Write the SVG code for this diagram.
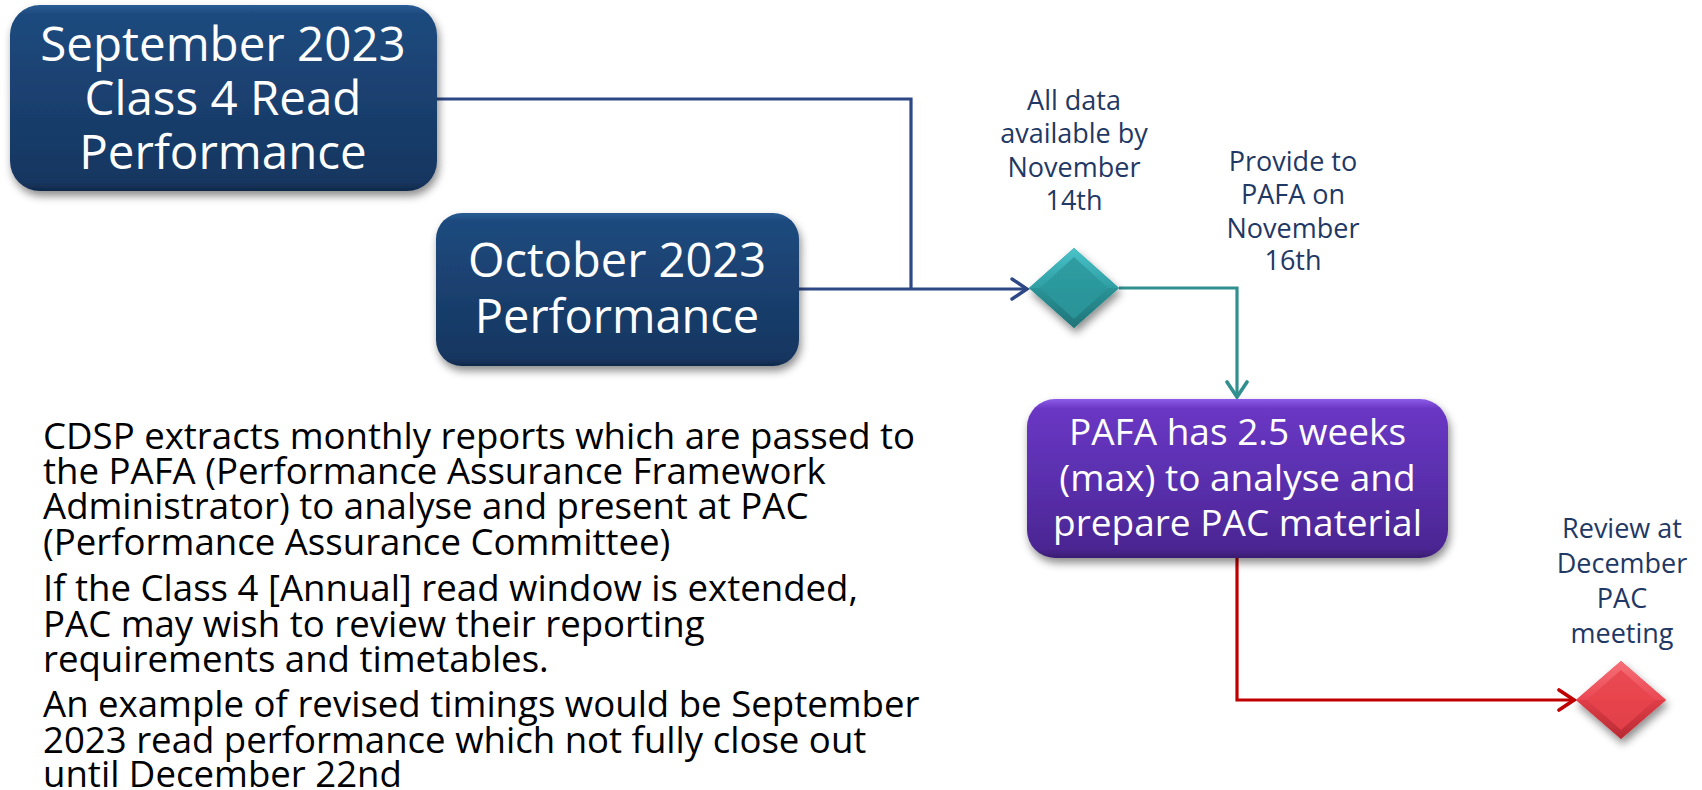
<svg xmlns="http://www.w3.org/2000/svg" width="1702" height="790" viewBox="0 0 1702 790">
  <style>
    .box-text { font-family: "Open Sans", "Liberation Sans", sans-serif; fill: #ffffff; text-anchor: middle; }
    .label { font-family: "Open Sans", "Liberation Sans", sans-serif; font-size: 27px; fill: #1F3864; text-anchor: middle; }
    .body { font-family: "Open Sans", "Liberation Sans", sans-serif; font-size: 36.6px; fill: #000000; }
    .conn { fill: none; stroke-width: 3.2; stroke-linejoin: miter; }
  </style>
  <defs>
    <linearGradient id="gNavy" x1="0" y1="0" x2="0" y2="1">
      <stop offset="0" stop-color="#2A5C95"/>
      <stop offset="0.05" stop-color="#1E4A7E"/>
      <stop offset="0.5" stop-color="#1A406F"/>
      <stop offset="0.95" stop-color="#153660"/>
      <stop offset="1" stop-color="#10294A"/>
    </linearGradient>
    <linearGradient id="gPurple" x1="0" y1="0" x2="0" y2="1">
      <stop offset="0" stop-color="#8C5CE8"/>
      <stop offset="0.06" stop-color="#6A37C4"/>
      <stop offset="0.5" stop-color="#5A2FAE"/>
      <stop offset="0.94" stop-color="#4B2692"/>
      <stop offset="1" stop-color="#3A1C72"/>
    </linearGradient>
    <linearGradient id="gTealTop" x1="0" y1="0" x2="0" y2="1">
      <stop offset="0" stop-color="#49C3C9"/>
      <stop offset="1" stop-color="#2E9EA3"/>
    </linearGradient>
    <linearGradient id="gTealBot" x1="0" y1="0" x2="0" y2="1">
      <stop offset="0" stop-color="#2A9397"/>
      <stop offset="1" stop-color="#1F7478"/>
    </linearGradient>
    <linearGradient id="gRedTop" x1="0" y1="0" x2="0" y2="1">
      <stop offset="0" stop-color="#F77078"/>
      <stop offset="1" stop-color="#EA4852"/>
    </linearGradient>
    <linearGradient id="gRedBot" x1="0" y1="0" x2="0" y2="1">
      <stop offset="0" stop-color="#E03E48"/>
      <stop offset="1" stop-color="#B82A33"/>
    </linearGradient>
    <filter id="shadow" x="-10%" y="-10%" width="125%" height="135%">
      <feDropShadow dx="2" dy="5" stdDeviation="4" flood-color="#000000" flood-opacity="0.45"/>
    </filter>
    <marker id="arrNavy" markerUnits="userSpaceOnUse" markerWidth="20" markerHeight="24" refX="17" refY="12" orient="auto">
      <path d="M2,2 L17,12 L2,22" fill="none" stroke="#2E4785" stroke-width="3.4" stroke-linecap="round" stroke-linejoin="miter"/>
    </marker>
    <marker id="arrTeal" markerUnits="userSpaceOnUse" markerWidth="20" markerHeight="24" refX="17" refY="12" orient="auto">
      <path d="M2,2 L17,12 L2,22" fill="none" stroke="#31908F" stroke-width="3.6" stroke-linecap="round" stroke-linejoin="miter"/>
    </marker>
    <marker id="arrRed" markerUnits="userSpaceOnUse" markerWidth="20" markerHeight="24" refX="17" refY="12" orient="auto">
      <path d="M2,2 L17,12 L2,22" fill="none" stroke="#C00000" stroke-width="3.6" stroke-linecap="round" stroke-linejoin="miter"/>
    </marker>
  </defs>

  <rect width="1702" height="790" fill="#ffffff"/>

  <g id="connectors">
    <path class="conn" stroke="#2E4785" d="M437,99 H911 V289"/>
    <path class="conn" stroke="#2E4785" d="M799,289 H1027" marker-end="url(#arrNavy)"/>
    <path class="conn" stroke="#31908F" stroke-width="3.6" d="M1119,288 H1237 V397" marker-end="url(#arrTeal)"/>
    <path class="conn" stroke="#C00000" stroke-width="3.6" d="M1237,558 V700 H1574" marker-end="url(#arrRed)"/>
  </g>

  <g id="node-sep">
    <rect x="10" y="5" width="427" height="186" rx="30" fill="url(#gNavy)" filter="url(#shadow)"/>
    <text class="box-text" font-size="47.5" x="223" y="61">September 2023</text>
    <text class="box-text" font-size="47.5" x="223" y="115">Class 4 Read</text>
    <text class="box-text" font-size="47.5" x="223" y="169">Performance</text>
  </g>

  <g id="node-oct">
    <rect x="436" y="213" width="363" height="153" rx="26" fill="url(#gNavy)" filter="url(#shadow)"/>
    <text class="box-text" font-size="47" x="617" y="277">October 2023</text>
    <text class="box-text" font-size="47" x="617" y="333">Performance</text>
  </g>

  <g id="node-data">
    <g filter="url(#shadow)">
      <polygon points="1074,248 1119,288 1074,328 1029,288" fill="#2C9499"/>
      <polygon points="1074,248 1119,288 1029,288" fill="url(#gTealTop)"/>
      <polygon points="1029,288 1119,288 1074,328" fill="url(#gTealBot)"/>
      <polygon points="1074,257 1108,288 1074,319 1040,288" fill="#2B989C" opacity="0.85"/>
    </g>
    <text class="label" x="1074" y="110">All data</text>
    <text class="label" x="1074" y="143">available by</text>
    <text class="label" x="1074" y="177">November</text>
    <text class="label" x="1074" y="210">14th</text>
  </g>

  <g id="label-provide">
    <text class="label" x="1293" y="171">Provide to</text>
    <text class="label" x="1293" y="204">PAFA on</text>
    <text class="label" x="1293" y="238">November</text>
    <text class="label" x="1293" y="270">16th</text>
  </g>

  <g id="node-pafa">
    <rect x="1027" y="399" width="421" height="159" rx="28" fill="url(#gPurple)" filter="url(#shadow)"/>
    <text class="box-text" font-size="37" x="1237.5" y="445">PAFA has 2.5 weeks</text>
    <text class="box-text" font-size="37" x="1237.5" y="491">(max) to analyse and</text>
    <text class="box-text" font-size="37" x="1237.5" y="536">prepare PAC material</text>
  </g>

  <g id="node-review">
    <g filter="url(#shadow)">
      <polygon points="1621,661 1666,700 1621,739 1576,700" fill="#E2404A"/>
      <polygon points="1621,661 1666,700 1576,700" fill="url(#gRedTop)"/>
      <polygon points="1576,700 1666,700 1621,739" fill="url(#gRedBot)"/>
      <polygon points="1621,670 1655,700 1621,730 1587,700" fill="#E8444E" opacity="0.85"/>
    </g>
    <text class="label" x="1622" y="538">Review at</text>
    <text class="label" x="1622" y="573">December</text>
    <text class="label" x="1622" y="608">PAC</text>
    <text class="label" x="1622" y="643">meeting</text>
  </g>

  <g id="notes">
    <text class="body" x="43" y="449">CDSP extracts monthly reports which are passed to</text>
    <text class="body" x="43" y="484">the PAFA (Performance Assurance Framework</text>
    <text class="body" x="43" y="519">Administrator) to analyse and present at PAC</text>
    <text class="body" x="43" y="555">(Performance Assurance Committee)</text>
    <text class="body" x="43" y="601">If the Class 4 [Annual] read window is extended,</text>
    <text class="body" x="43" y="637">PAC may wish to review their reporting</text>
    <text class="body" x="43" y="672">requirements and timetables.</text>
    <text class="body" x="43" y="717">An example of revised timings would be September</text>
    <text class="body" x="43" y="753">2023 read performance which not fully close out</text>
    <text class="body" x="43" y="787">until December 22nd</text>
  </g>
</svg>
